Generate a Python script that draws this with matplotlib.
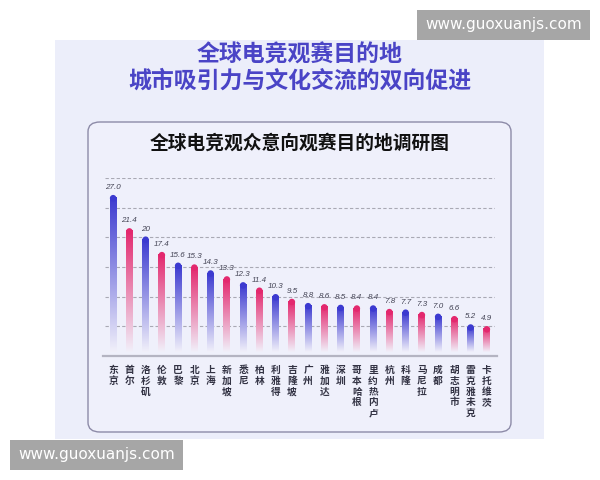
import numpy as np
import matplotlib
matplotlib.use("Agg")
import matplotlib.pyplot as plt
from matplotlib.colors import LinearSegmentedColormap
from matplotlib.patches import Rectangle, FancyBboxPatch

plt.rcParams['font.family'] = ['Noto Sans CJK SC', 'DejaVu Sans']

cities = ['东京', '首尔', '洛杉矶', '伦敦', '巴黎', '北京', '上海', '新加坡',
          '悉尼', '柏林', '利雅得', '吉隆坡', '广州', '雅加达', '深圳', '哥本哈根',
          '里约热内卢', '杭州', '科隆', '马尼拉', '成都', '胡志明市', '雷克雅未克', '卡托维茨']
values = [27.0, 21.4, 20, 17.4, 15.6, 15.3, 14.3, 13.3, 12.3, 11.4, 10.3, 9.5,
          8.8, 8.6, 8.5, 8.4, 8.4, 7.8, 7.7, 7.3, 7.0, 6.6, 5.2, 4.9]
value_labels = ['27.0', '21.4', '20', '17.4', '15.6', '15.3', '14.3', '13.3', '12.3',
                '11.4', '10.3', '9.5', '8.8', '8.6', '8.5', '8.4', '8.4', '7.8', '7.7',
                '7.3', '7.0', '6.6', '5.2', '4.9']
grid_levels = [5, 10, 15, 20, 25, 30]

BLUE = '#3c3ad0'
PINK = '#e3286e'
W, H = 600, 480

fig = plt.figure(figsize=(6, 4.8), dpi=100)
fig.patch.set_facecolor('white')


def px(x0, y0, x1, y1):
    # pixel box (top-left origin) -> figure fraction rect
    return (x0 / W, 1 - y1 / H, (x1 - x0) / W, (y1 - y0) / H)


# lavender panel
x, y, w, h = px(55, 40, 544, 439)
fig.patches.append(Rectangle((x, y), w, h, transform=fig.transFigure,
                             facecolor='#eceefa', edgecolor='none', zorder=0))
# inner rounded box
x, y, w, h = px(88, 122, 511, 432)
fig.patches.append(FancyBboxPatch((x, y), w, h, transform=fig.transFigure,
                                  boxstyle='round,pad=0,rounding_size=0.02',
                                  facecolor='#eff0fb', edgecolor='#8d8ba8',
                                  linewidth=1.0, zorder=1))

# titles
fig.text(0.5, 1 - 55 / H, '全球电竞观赛目的地', ha='center', va='center',
         fontsize=16.5, fontweight='bold', color='#4a44c6')
fig.text(0.5, 1 - 81 / H, '城市吸引力与文化交流的双向促进', ha='center', va='center',
         fontsize=16.5, fontweight='bold', color='#4a44c6')
fig.text(0.5, 1 - 143 / H, '全球电竞观众意向观赛目的地调研图', ha='center', va='center',
         fontsize=13.5, fontweight='bold', color='#111111')

# watermarks
for (x0, y0, x1, y1) in [(417, 10, 590, 40), (10, 440, 183, 470)]:
    x, y, w, h = px(x0, y0, x1, y1)
    fig.patches.append(Rectangle((x, y), w, h, transform=fig.transFigure,
                                 facecolor='#a6a6a6', edgecolor='none', zorder=5))
    fig.text(x + w / 2, y + h / 2, 'www.guoxuanjs.com', ha='center', va='center',
             fontsize=11, color='white', family=['DejaVu Sans'], zorder=6)

# chart axes
ax = fig.add_axes(px(105, 178, 495, 356))
ax.set_zorder(3)
ax.set_facecolor('none')
for s in ax.spines.values():
    s.set_visible(False)
ax.set_xticks([])
ax.set_yticks([])

for g in grid_levels:
    ax.axhline(g, color='#a9a9b4', lw=0.8, ls=(0, (3, 2)), zorder=1)
ax.plot([-0.6, len(cities) - 0.4], [0, 0], color='#b4b4c2', lw=1.6,
        clip_on=False, zorder=2)

bar_w = 0.42
grad = np.linspace(0, 1, 256).reshape(-1, 1)
for i, (v, lab) in enumerate(zip(values, value_labels)):
    c = BLUE if i % 2 == 0 else PINK
    cmap = LinearSegmentedColormap.from_list('g', ['#f1f0fa', c])
    cap = 0.4
    ax.imshow(grad, cmap=cmap, origin='lower', aspect='auto', interpolation='bilinear',
              extent=[i - bar_w / 2, i + bar_w / 2, 0.6, v - cap], zorder=3)
    ax.scatter([i], [v - cap], s=22, color=c, edgecolors='none', zorder=3)
    ax.text(i, v + 0.8, lab, ha='center', va='bottom', fontsize=5.8,
            style='italic', color='#444455', family=['Liberation Sans'])
    ax.text(i, -1.5, '\n'.join(cities[i]), ha='center', va='top', fontsize=7,
            fontweight='bold', color='#333344', linespacing=1.1)

ax.set_xlim(-0.5, len(cities) - 0.5)
ax.set_ylim(0, 30)

fig.savefig('out.png', dpi=100, facecolor='white')
